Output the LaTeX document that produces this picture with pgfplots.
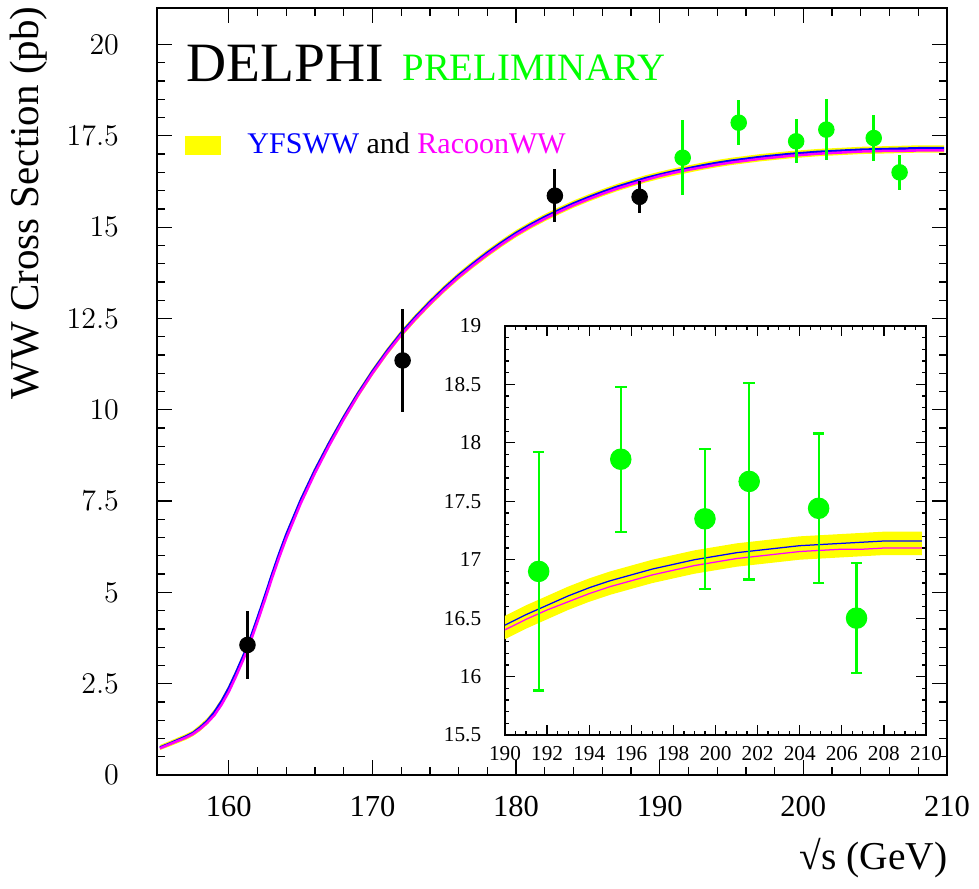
\documentclass[border=0pt]{standalone}
\usepackage{fontspec}
\setmainfont{Liberation Serif}
\usepackage{pgfplots}
\pgfplotsset{compat=1.18}
\usepgfplotslibrary{fillbetween}
\usepackage{pgfplotstable}
\definecolor{hepgreen}{RGB}{0,255,0}
\definecolor{hepblue}{RGB}{0,0,255}
\definecolor{hepmagenta}{RGB}{255,0,255}
\definecolor{hepyellow}{RGB}{255,255,0}

% theory curves: YFSWW (b), RacoonWW (m), band (lo,hi)
\pgfplotstableread{
x b m lo hi
155.2 0.75 0.73 0.68 0.82
156.0 0.88 0.86 0.80 0.95
157.0 1.05 1.02 0.96 1.12
157.5 1.15 1.12 1.06 1.22
158.0 1.30 1.26 1.20 1.38
158.5 1.48 1.43 1.38 1.56
159.0 1.72 1.64 1.60 1.80
159.5 2.02 1.93 1.90 2.10
160.0 2.38 2.28 2.26 2.46
160.5 2.80 2.70 2.68 2.88
161.0 3.25 3.15 3.13 3.33
161.5 3.74 3.64 3.62 3.82
162.0 4.30 4.20 4.18 4.38
162.5 4.88 4.78 4.76 4.96
163.0 5.48 5.38 5.36 5.56
163.5 6.05 5.95 5.93 6.13
164.0 6.58 6.48 6.46 6.66
165.0 7.52 7.43 7.40 7.60
166.0 8.35 8.27 8.23 8.43
167.0 9.10 9.03 8.98 9.18
168.0 9.80 9.74 9.68 9.88
169.0 10.45 10.40 10.33 10.53
170.0 11.05 11.00 10.93 11.13
171.0 11.60 11.55 11.48 11.68
172.0 12.10 12.05 11.98 12.18
173.0 12.54 12.49 12.42 12.62
174.0 12.95 12.90 12.83 13.03
175.0 13.33 13.28 13.21 13.41
176.0 13.68 13.63 13.56 13.76
177.0 14.00 13.95 13.88 14.08
178.0 14.30 14.25 14.18 14.38
179.0 14.58 14.53 14.46 14.66
180.0 14.84 14.79 14.72 14.92
181.0 15.07 15.02 14.95 15.15
182.0 15.28 15.23 15.16 15.36
183.0 15.47 15.42 15.35 15.55
184.0 15.65 15.60 15.53 15.73
185.0 15.81 15.76 15.69 15.89
186.0 15.96 15.91 15.84 16.04
187.0 16.10 16.05 15.98 16.18
188.0 16.22 16.17 16.10 16.30
189.0 16.34 16.29 16.22 16.42
190.0 16.44 16.40 16.32 16.52
191.0 16.53 16.49 16.41 16.61
192.0 16.61 16.57 16.49 16.69
193.0 16.69 16.64 16.57 16.77
194.0 16.76 16.71 16.64 16.84
195.0 16.82 16.77 16.70 16.90
196.0 16.87 16.82 16.75 16.95
197.0 16.92 16.87 16.80 17.00
198.0 16.96 16.91 16.84 17.04
199.0 17.00 16.95 16.88 17.08
200.0 17.03 16.98 16.91 17.11
201.0 17.06 17.01 16.94 17.14
202.0 17.08 17.03 16.96 17.16
203.0 17.10 17.05 16.98 17.18
204.0 17.12 17.07 17.00 17.20
205.0 17.13 17.08 17.01 17.21
206.0 17.14 17.09 17.02 17.22
207.0 17.15 17.09 17.03 17.23
208.0 17.16 17.10 17.04 17.24
209.0 17.16 17.10 17.04 17.24
209.8 17.16 17.10 17.04 17.24
}\wwcurve

% LEP2 measurements, published (black) and preliminary (green)
\pgfplotstableread{
x y e
161.3 3.56 0.92
172.1 11.35 1.41
182.7 15.86 0.73
188.6 15.83 0.43
}\wwblack

\pgfplotstableread{
x y e
191.6 16.90 1.02
195.5 17.86 0.62
199.5 17.35 0.60
201.6 17.67 0.84
204.9 17.44 0.64
206.7 16.50 0.47
}\wwgreen

\begin{document}
\begin{tikzpicture}[x=1pt,y=1pt]
\begin{axis}[
  at={(0pt,0pt)}, anchor=south west,
  scale only axis, width=316pt, height=306.8pt,
  xmin=155, xmax=210, ymin=0, ymax=21,
  xtick={160,170,...,210}, ytick={0,2.5,...,20},
  minor x tick num=4, minor y tick num=4,
  tick align=inside, major tick length=6pt, minor tick length=3.2pt,
  tick style={black, line width=0.5pt},
  axis line style={line width=1pt},
  xticklabel style={font=\fontsize{12.2}{14}\selectfont,
    /pgf/number format/assume math mode=true, yshift=-4.8pt},
  yticklabel style={font=\fontsize{13}{15}\selectfont, xshift=-11.7pt},
  /pgf/number format/fixed,
]
  \addplot[name path=hi, draw=none, forget plot] table[x=x, y=hi]{\wwcurve};
  \addplot[name path=lo, draw=none, forget plot] table[x=x, y=lo]{\wwcurve};
  \addplot[hepyellow, forget plot] fill between[of=hi and lo];
  \addplot[hepblue, line width=1pt, no marks] table[x=x, y=b]{\wwcurve};
  \addplot[hepmagenta, line width=1pt, no marks] table[x=x, y=m]{\wwcurve};

  \addplot[black, only marks, mark=*, mark size=3.1pt,
    error bars/.cd, y dir=both, y explicit, error mark=none,
    error bar style={line width=1.2pt, black}]
    table[x=x, y=y, y error=e]{\wwblack};
  \addplot[hepgreen, only marks, mark=*, mark size=3.1pt,
    error bars/.cd, y dir=both, y explicit, error mark=none,
    error bar style={line width=1.2pt, hepgreen}]
    table[x=x, y=y, y error=e]{\wwgreen};
\end{axis}

% zoom on the high energy points
\begin{axis}[
  at={(139.2pt,16pt)}, anchor=south west,
  scale only axis, width=168.4pt, height=163.6pt,
  xmin=190, xmax=210, ymin=15.5, ymax=19,
  xtick={190,192,...,210}, ytick={15.5,16,...,19},
  minor x tick num=3, minor y tick num=4,
  tick align=inside, major tick length=4pt, minor tick length=1.6pt,
  tick style={black, line width=0.5pt},
  axis line style={line width=1pt},
  axis background/.style={fill=white},
  ticklabel style={font=\fontsize{8.5}{10}\selectfont},
  /pgf/number format/assume math mode=true,
  /pgf/number format/fixed,
  xticklabel style={yshift=-1.2pt},
  yticklabel style={xshift=-6pt},
]
  \addplot[name path=hi2, draw=none, forget plot] table[x=x, y=hi]{\wwcurve};
  \addplot[name path=lo2, draw=none, forget plot] table[x=x, y=lo]{\wwcurve};
  \addplot[hepyellow, forget plot] fill between[of=hi2 and lo2];
  \addplot[hepblue, line width=0.5pt, no marks] table[x=x, y=b]{\wwcurve};
  \addplot[hepmagenta, line width=0.5pt, no marks] table[x=x, y=m]{\wwcurve};

  \addplot[hepgreen, only marks, mark=*, mark size=4.1pt,
    error bars/.cd, y dir=both, y explicit, error mark=-,
    error mark options={rotate=90, mark size=2.3pt, line width=0.9pt, hepgreen},
    error bar style={line width=0.9pt, hepgreen}]
    table[x=x, y=y, y error=e]{\wwgreen};
\end{axis}

% labels, title and legend
\node[rotate=90, font=\fontsize{16.4}{19}\selectfont, inner sep=0pt]
  at (-51.2pt,228.8pt) {WW Cross Section (pb)};
\node[anchor=base east, font=\fontsize{15.8}{19}\selectfont, inner sep=0pt]
  at (316.4pt,-38pt) {√s (GeV)};
\node[anchor=base west, font=\fontsize{22.2}{26}\selectfont, inner sep=0pt]
  at (11.6pt,277.3pt) {DELPHI};
\node[anchor=base west, font=\fontsize{15.5}{18}\selectfont, text=hepgreen, inner sep=0pt]
  at (98pt,277.6pt) {PRELIMINARY};
\fill[hepyellow] (11.2pt,248pt) rectangle (25.6pt,255.6pt);
\node[anchor=base west, font=\fontsize{12}{14}\selectfont, inner sep=0pt]
  at (36pt,248.4pt) {\textcolor{hepblue}{YFSWW} and \textcolor{hepmagenta}{RacoonWW}};

\pgfresetboundingbox
\path[use as bounding box] (-62.8pt,-45.6pt) rectangle (328.8pt,310pt);
\end{tikzpicture}
\end{document}
